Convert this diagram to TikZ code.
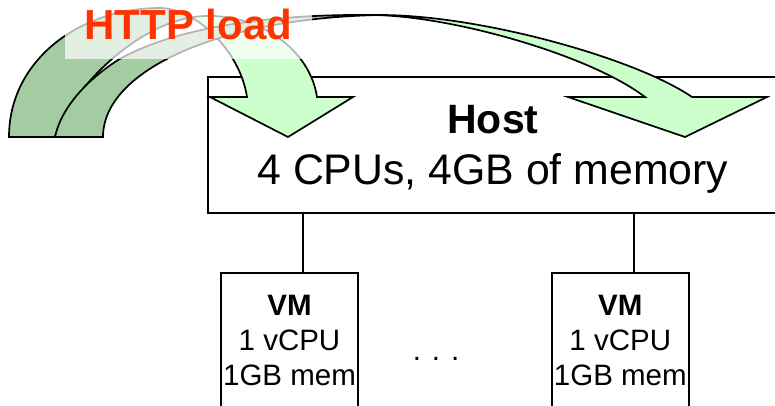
\documentclass[tikz,border=0pt]{standalone}
\usepackage{fontspec}
\setmainfont{Liberation Sans}
\usetikzlibrary{positioning,calc}
\definecolor{loadred}{HTML}{FF3300}
\definecolor{fronthead}{HTML}{CCFFCC}
\definecolor{backtail}{HTML}{A3CCA3}

% outlines of the two curved load arrows (tail at the left, head pointing down)
\newcommand{\loadarrowA}{(9,137) .. controls (9,60) and (80,8) .. (160,8)
    .. controls (195,8) and (240,50) .. (247,97) -- (210,97) -- (288,137)
    -- (353,97) -- (317,97) .. controls (310,50) and (260,14) .. (205,16)
    .. controls (140,18) and (70,90) .. (55,137) -- cycle}
\newcommand{\loadarrowB}{(55,137) .. controls (62,105) and (90,78) .. (118,60)
    .. controls (170,30) and (260,14) .. (370,15)
    .. controls (450,15) and (590,55) .. (645,97) -- (568,97) -- (685,137)
    -- (767,97) -- (692,97) .. controls (635,58) and (480,15) .. (380,15)
    .. controls (220,18) and (103,70) .. (103,137) -- cycle}

\begin{document}
\begin{tikzpicture}[
    x=1pt, y=-1pt,
    every node/.style={inner sep=0pt},
    hostbox/.style={
        draw=black, line width=1.8pt,
        minimum width=570pt, minimum height=136pt,
        align=center, font=\fontsize{41}{50.6}\selectfont
    },
    vmbox/.style={
        draw=black, line width=1.8pt,
        minimum width=137pt, minimum height=136pt,
        align=center, font=\fontsize{29.5}{35}\selectfont
    },
    loadlabel/.style={
        fill=white, fill opacity=0.7, text opacity=1,
        minimum width=247pt, minimum height=59pt,
        text height=30pt, text depth=9pt,
        font=\fontsize{42}{50}\selectfont\bfseries, text=loadred
    },
    link/.style={draw=black, line width=2.2pt},
    arrowline/.style={draw=black, line width=1.7pt},
]
\useasboundingbox (0,0) rectangle (775,406);
\clip (0,0) rectangle (775,406);

% ===== Host and VMs =====
\node[hostbox, anchor=north west] (host) at (207,76) {%
    \rule{0pt}{36.6pt}\textbf{Host}\\
    {\fontsize{42.8}{50.6}\selectfont 4 CPUs, 4GB of memory}};

\node[vmbox, anchor=north] (vm1) at (289.5,272) {\textbf{VM}\\1 vCPU\\1GB mem};
\node[vmbox, right=192pt of vm1] (vm2) {\textbf{VM}\\1 vCPU\\1GB mem};

\node[font=\fontsize{29.5}{35}\selectfont] (dots) at (436,358.5) {. . .};

% ===== Links host -> VMs =====
\coordinate (vm1top) at ($(vm1.north west)!0.6!(vm1.north east)$);
\coordinate (vm2top) at ($(vm2.north west)!0.6!(vm2.north east)$);
\draw[link] (vm1top) -- (vm1top |- host.south);
\draw[link] (vm2top) -- (vm2top |- host.south);

% ===== Load arrows =====
\fill[fronthead] \loadarrowA;
\begin{scope}
    \clip (0,0) rectangle (191,140);
    \fill[backtail] \loadarrowA;
\end{scope}
\draw[arrowline] \loadarrowA;

\fill[fronthead] \loadarrowB;
\begin{scope}
    \clip (0,0) rectangle (378,140);
    \fill[backtail] \loadarrowB;
\end{scope}
\draw[arrowline] \loadarrowB;

% ===== Label =====
\node[loadlabel] (load) at (188.5,29.5) {HTTP load};

\end{tikzpicture}
\end{document}
